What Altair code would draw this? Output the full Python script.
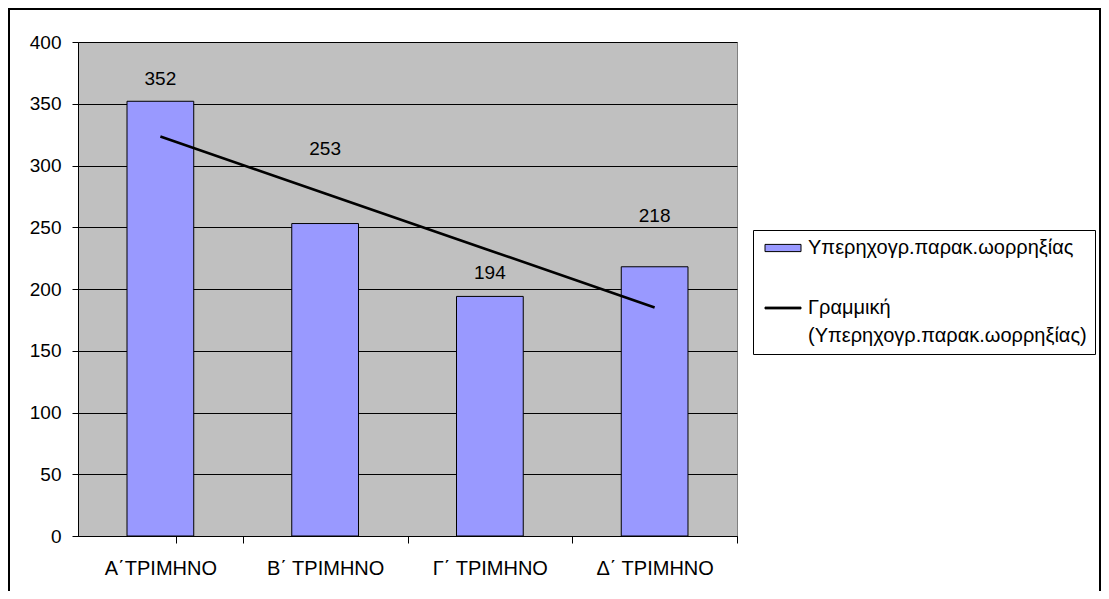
import altair as alt
import pandas as pd
import numpy as np

FONT = "Liberation Sans"

categories = ["Α΄ΤΡΙΜΗΝΟ", "Β΄ ΤΡΙΜΗΝΟ", "Γ΄ ΤΡΙΜΗΝΟ", "Δ΄ ΤΡΙΜΗΝΟ"]
values = [352, 253, 194, 218]
label_pos = [370, 313, 213, 259]  # value-axis height where each data label sits
y_ticks = [0, 50, 100, 150, 200, 250, 300, 350, 400]
bar_name = "Υπερηχογρ.παρακ.ωορρηξίας"
line_name = "Γραμμική (Υπερηχογρ.παρακ.ωορρηξίας)"
line_label_lines = ["Γραμμική", "(Υπερηχογρ.παρακ.ωορρηξίας)"]

# linear trend line fitted to the bar values
idx = np.arange(1, len(values) + 1)
slope, intercept = np.polyfit(idx, values, 1)
trend = intercept + slope * idx

bars_df = pd.DataFrame({"cat": categories, "value": values,
                        "label_pos": label_pos, "series": bar_name})
trend_df = pd.DataFrame({"cat": categories, "trend": trend, "series": line_name})
legend_df = pd.DataFrame({"series": [bar_name, line_name]})

P_IN = 0.595
series_domain = [bar_name, line_name]
fill_scale = alt.Scale(domain=series_domain, range=["#9999FF", "black"])
stroke_scale = alt.Scale(domain=series_domain, range=["black", "black"])
x_scale = alt.Scale(paddingInner=P_IN, paddingOuter=P_IN / 2)
y_scale = alt.Scale(domain=[0, 400], nice=False)

step = 659 / 4
gap = step * P_IN / 2

x_axis = alt.Axis(title=None, labelAngle=0, bandPosition=1, tickOffset=gap,
                  tickExtra=True, labelOffset=-gap, tickSize=7, labelPadding=15,
                  domainColor="black", tickColor="black", labelColor="black",
                  labelFont=FONT, labelFontSize=20, grid=False)
y_axis = alt.Axis(title=None, values=y_ticks, tickSize=6, labelPadding=11,
                  domainColor="black", tickColor="black", labelColor="black",
                  labelFont=FONT, labelFontSize=19, grid=True, gridColor="black",
                  gridWidth=1, gridOpacity=1)

rect_path = "M-1,-0.6H5V0.6H-1Z"
line_path = "M-1,-0.15H5V0.15H-1Z"
label_expr = ("datum.label == '" + line_name + "' ? ['" + line_label_lines[0]
              + "', '" + line_label_lines[1] + "'] : datum.label")
leg = alt.Legend(title=None, orient="none", legendX=675, legendY=188,
                 strokeColor="black", fillColor="white", padding=8,
                 rowPadding=40, labelFont=FONT, labelFontSize=20,
                 labelColor="black", labelLimit=500, labelOffset=27,
                 labelExpr=label_expr, symbolSize=144,
                 symbolStrokeWidth=1, symbolOpacity=1)

X = alt.X("cat:N", sort=categories, scale=x_scale, axis=x_axis)

legend_layer = alt.Chart(legend_df).mark_point(filled=True, strokeWidth=1,
                                               size=144).encode(
    x=alt.value(-3000), y=alt.value(-3000),
    fill=alt.Fill("series:N", scale=fill_scale, legend=leg),
    stroke=alt.Stroke("series:N", scale=stroke_scale, legend=leg),
    shape=alt.Shape("series:N", scale=alt.Scale(domain=series_domain,
                                                range=[rect_path, line_path]),
                    legend=leg),
)

bars = alt.Chart(bars_df).mark_bar(stroke="black", strokeWidth=1).encode(
    x=X,
    y=alt.Y("value:Q", scale=y_scale, axis=y_axis),
    fill=alt.Fill("series:N", scale=fill_scale, legend=leg),
)

labels = alt.Chart(bars_df).mark_text(font=FONT, fontSize=19, color="black",
                                      baseline="middle").encode(
    x=X,
    y=alt.Y("label_pos:Q", scale=y_scale, axis=y_axis),
    text=alt.Text("value:Q"),
)

trend_line = alt.Chart(trend_df).mark_line(strokeWidth=2.6).encode(
    x=X,
    y=alt.Y("trend:Q", scale=y_scale, axis=y_axis),
    stroke=alt.Stroke("series:N", scale=stroke_scale, legend=leg),
)

frame = alt.Chart(alt.Data(values=[{}])).mark_rect(
    filled=False, stroke="black", strokeWidth=2).encode(
    x=alt.value(-69), x2=alt.value(1022), y=alt.value(-33), y2=alt.value(700))

chart = alt.layer(legend_layer, bars, trend_line, labels, frame).properties(
    width=659, height=494,
    autosize=alt.AutoSizeParams(type="none"),
    padding={"left": 70, "top": 34, "right": 364, "bottom": 55},
    background="white",
).configure_view(
    fill="#C0C0C0", stroke="#808080", strokeWidth=1
)
chart.config.style = {"guide-label": {"lineHeight": 28}}

chart.save("out.html", embed_options={"renderer": "svg", "actions": False})
